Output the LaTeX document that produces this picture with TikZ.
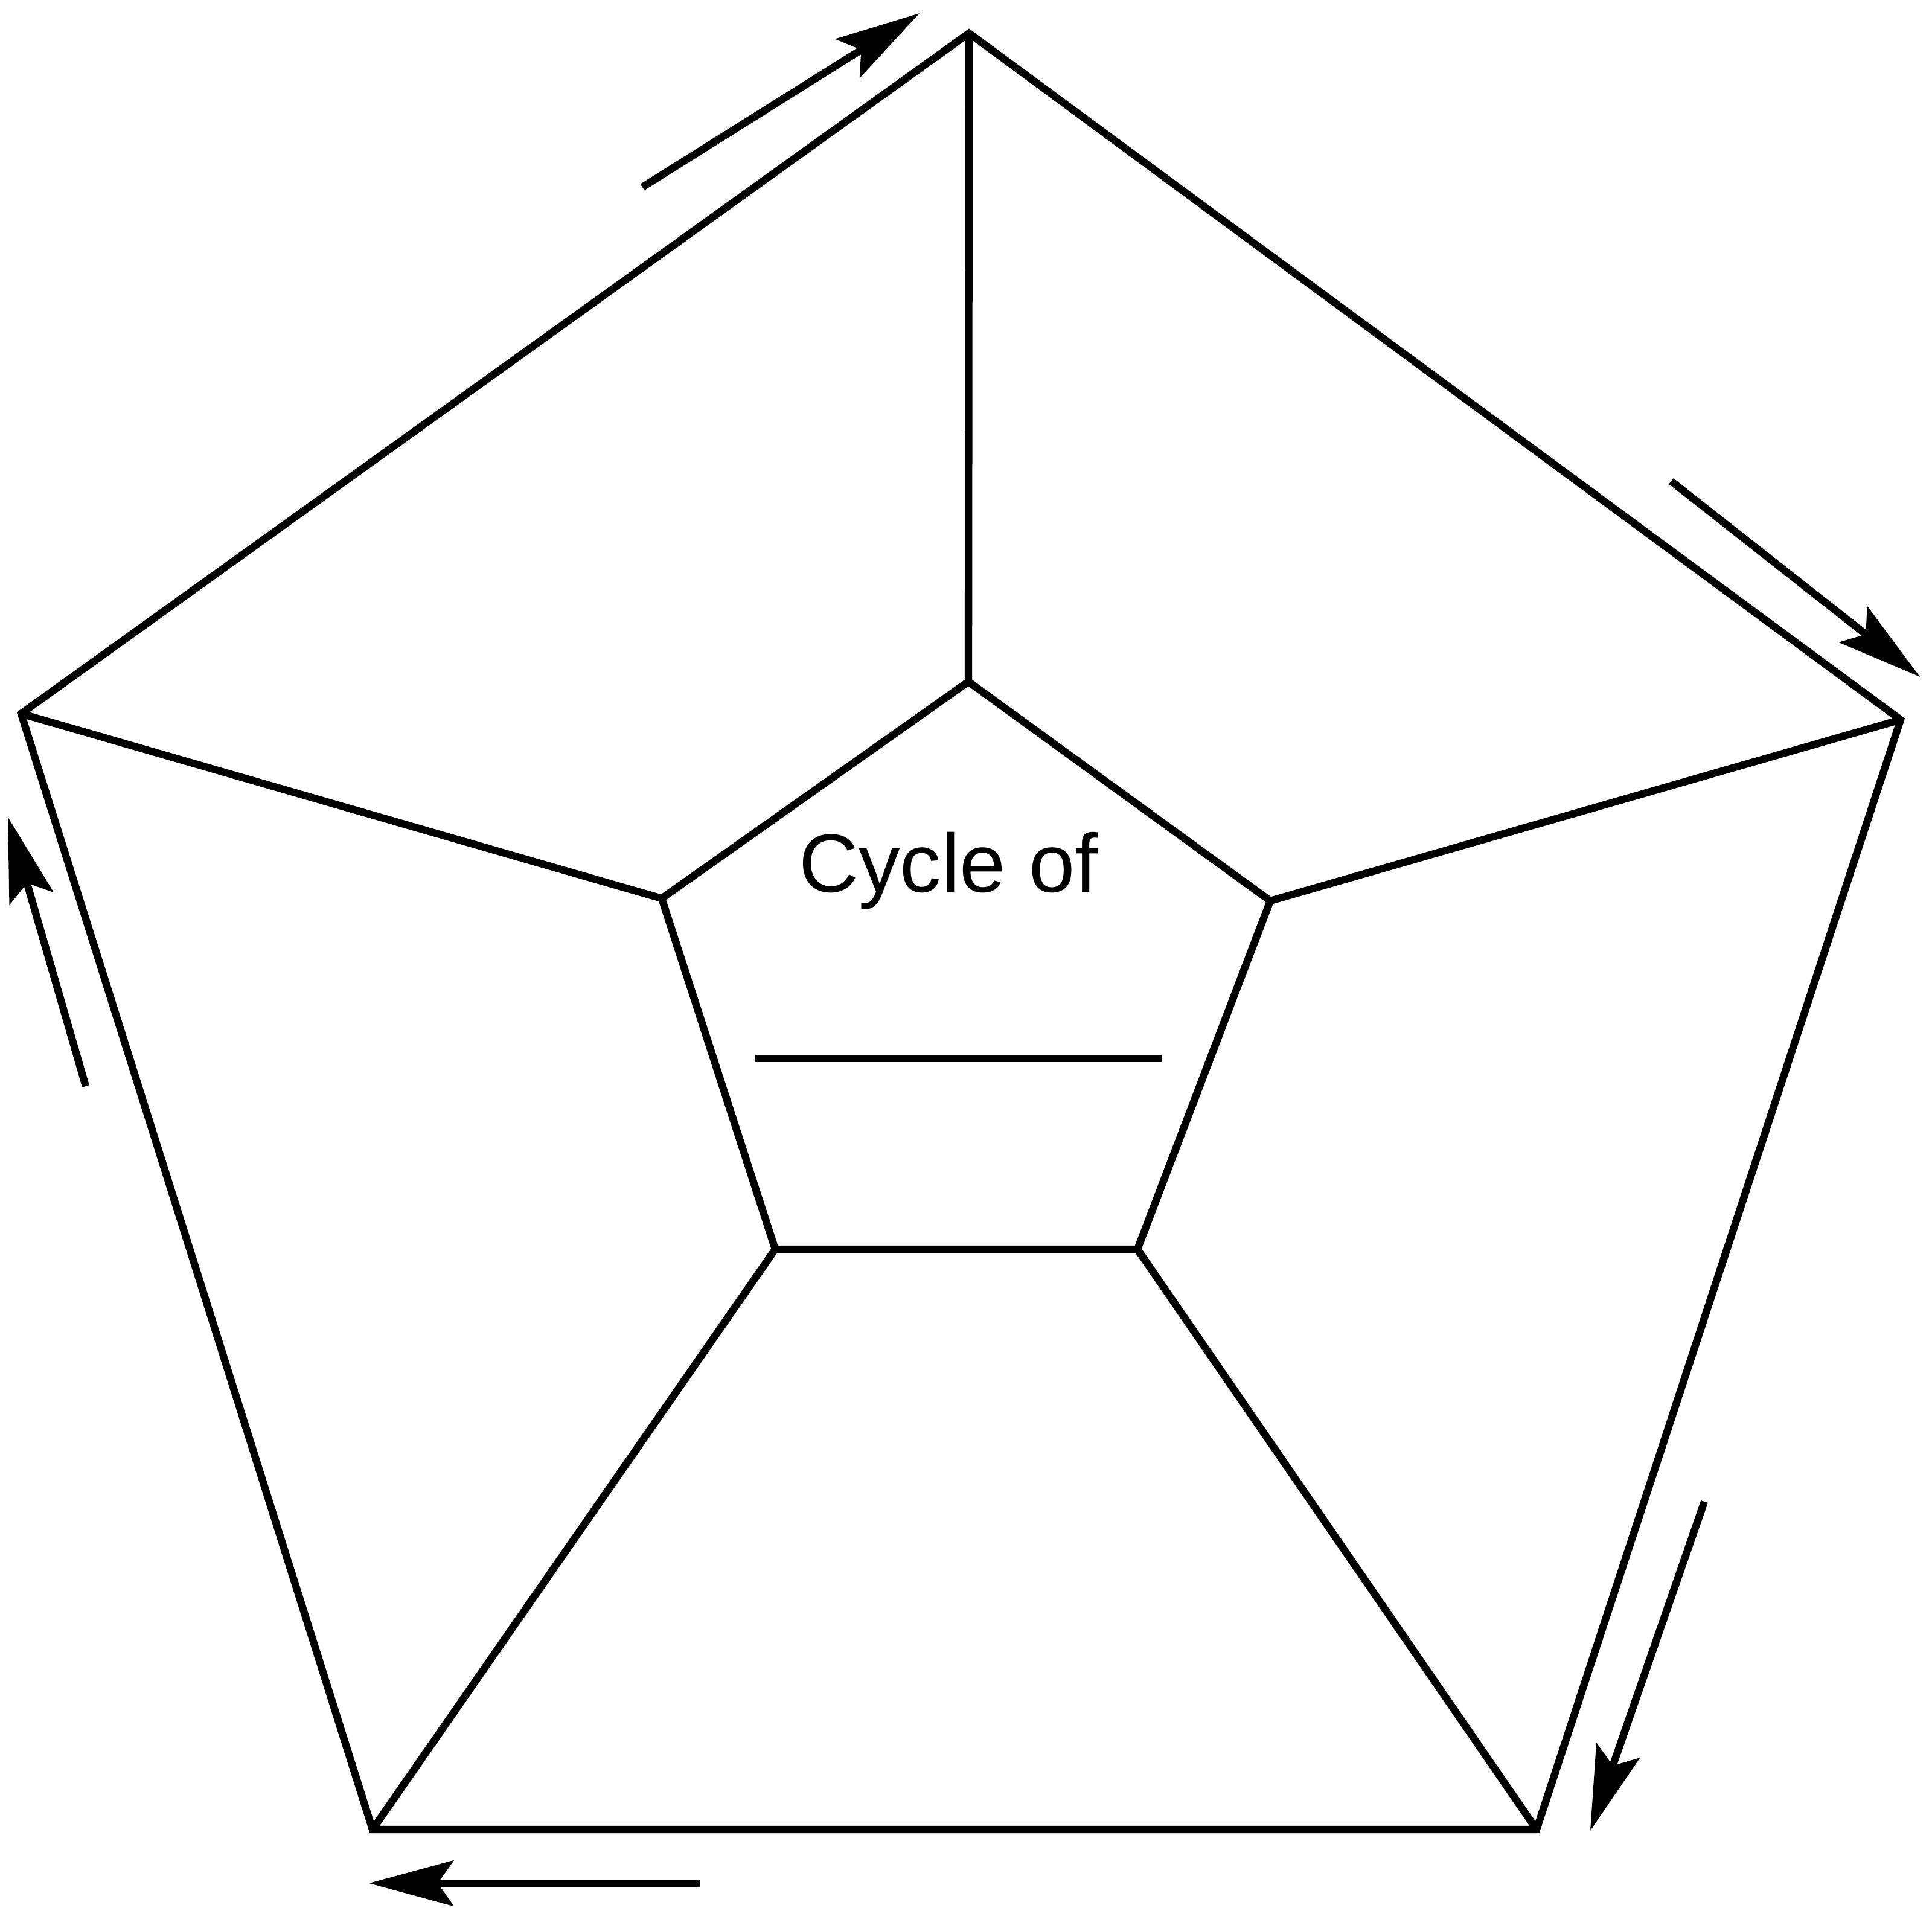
\documentclass[tikz,border=0pt]{standalone}
\usepackage{fontspec}
\setmainfont{Liberation Sans}
\usetikzlibrary{arrows.meta}

\begin{document}
\begin{tikzpicture}[>={Stealth[length=1.4cm,width=0.75cm,inset=0.26cm]},line width=3.5pt]
  \useasboundingbox (0,0) rectangle (32,31.6);
  % corners of the two pentagons
  \foreach \n/\x/\y in {o1/16.05/31.05,o2/31.48/19.68,o3/25.45/1.30,o4/6.17/1.30,o5/0.35/19.78,
                        i1/16.04/20.31,i2/21.04/16.68,i3/18.84/10.91,i4/12.84/10.91,i5/10.96/16.72}
    \coordinate (\n) at (\x,\y);
  \draw (o1)--(o2)--(o3)--(o4)--(o5)--cycle;
  \draw (i1)--(i2)--(i3)--(i4)--(i5)--cycle;
  \foreach \k in {1,...,5}
    \draw (o\k)--(i\k);
  % label and blank
  \node[font=\fontsize{39}{47}\selectfont,anchor=base,inner sep=0pt] (cyc) at (15.71,16.82) {Cycle of};
  \coordinate (blankL) at (12.51,14.07);
  \coordinate (blankR) at (19.24,14.07);
  \draw (blankL)--(blankR);
  % direction arrows
  \foreach \k/\xa/\ya/\xb/\yb in {1/10.64/28.50/15.23/31.38,2/27.68/23.63/31.80/20.39,
                                   3/28.23/6.73/26.34/1.28,4/11.59/0.41/6.11/0.41,5/1.42/13.61/0.13/18.07}
  {
    \coordinate (s\k) at (\xa,\ya);
    \coordinate (e\k) at (\xb,\yb);
    \draw[->] (s\k)--(e\k);
  }
\end{tikzpicture}
\end{document}
